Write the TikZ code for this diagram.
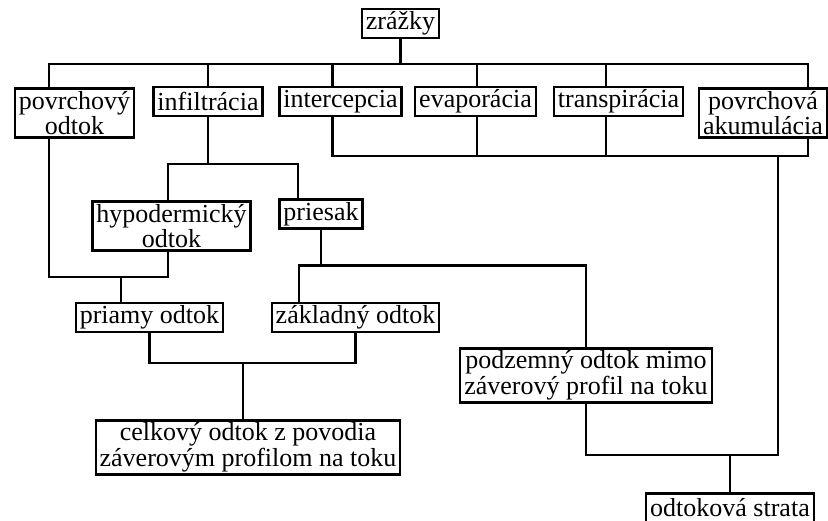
\documentclass[tikz,border=0pt]{standalone}
\usepackage{fontspec}
\setmainfont{Liberation Serif}
\usepackage{tikz}

\begin{document}
\begin{tikzpicture}[x=1pt, y=-1pt,
    box/.style={draw, line width=2.2pt, align=center, inner xsep=4pt,
      inner ysep=2.5pt, minimum height=29pt,
      font=\fontsize{26}{25.5}\selectfont},
    every path/.style={line width=2.2pt},
  ]
    \useasboundingbox (0,0) rectangle (828,521);

    % nodes
    \node[box] (zrazky) at (400.5,23.5) {zrážky};
    \node[box] (povrch) at (74.5,113) {povrchový\\odtok};
    \node[box] (infil) at (208,101.5) {infiltrácia};
    \node[box] (interc) at (340.5,101.5) {intercepcia};
    \node[box] (evap) at (475.5,101.5) {evaporácia};
    \node[box] (transp) at (618.5,101.5) {transpirácia};
    \node[box] (akum) at (763,113) {povrchová\\akumulácia};
    \node[box] (hypo) at (171.5,226) {hypodermický\\odtok};
    \node[box] (priesak) at (321,214) {priesak};
    \node[box] (priamy) at (149.5,317.5) {priamy odtok};
    \node[box] (zaklad) at (355.5,317.5) {základný odtok};
    \node[box] (podzem) at (586,375.5) {podzemný odtok mimo\\záverový profil na toku};
    \node[box] (celkovy) at (248,447.5) {celkový odtok z povodia\\záverovým profilom na toku};
    \node[box] (strata) at (730,508) {odtoková strata};

    % top bus
    \draw (zrazky.south) -- ++(0,25) coordinate (b1);
    \draw ([xshift=35]povrch.north west) |- (b1) -| ([xshift=-20]akum.north east);
    \draw (infil.north) -- (infil.north |- b1);
    \draw ([xshift=-8]interc.north) -- ([xshift=-8]interc.north |- b1);
    \draw ([xshift=1.5]evap.north) -- ([xshift=1.5]evap.north |- b1);
    \draw ([xshift=-12.5]transp.north) -- ([xshift=-12.5]transp.north |- b1);

    % losses
    \coordinate (b2) at (778,156);
    \coordinate (b5) at (778,455);
    \draw ([xshift=-8]interc.south) |- (b2) -| ([xshift=-20]akum.south east);
    \draw ([xshift=1.5]evap.south) -- ([xshift=1.5]evap.south |- b2);
    \draw ([xshift=-12.5]transp.south) -- ([xshift=-12.5]transp.south |- b2);
    \draw (podzem.south) |- (b5) -- (b2);
    \draw (strata.north) -- (strata.north |- b5);

    % infiltration
    \draw (infil.south) -- ++(0,47) coordinate (b3);
    \draw ([xshift=-3.5]hypo.north) |- (b3) -| ([xshift=-23]priesak.north);
    \draw (priesak.south) -- ++(0,36) coordinate (b4);
    \draw ([xshift=-56.5]zaklad.north) |- (b4) -| (podzem.north);

    % runoff
    \coordinate (b6) at (121,277);
    \draw ([xshift=35]povrch.south west) |- (b6) -| ([xshift=-3.5]hypo.south);
    \draw (b6) -- (b6 |- priamy.north);
    \coordinate (b7) at (243,363);
    \draw (priamy.south) |- (b7) -| (zaklad.south);
    \draw (b7) -- (b7 |- celkovy.north);
\end{tikzpicture}
\end{document}
